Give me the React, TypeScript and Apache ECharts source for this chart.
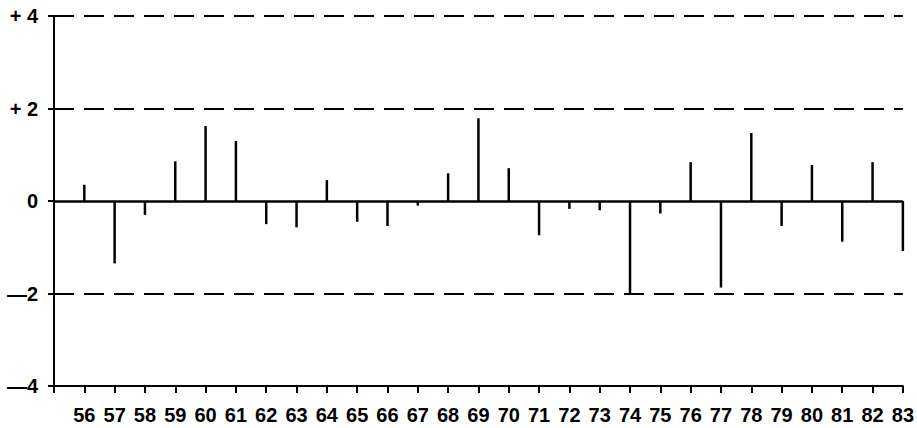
import React, { useEffect, useRef } from "react";
import * as echarts from "echarts";

const years = [56, 57, 58, 59, 60, 61, 62, 63, 64, 65, 66, 67, 68, 69, 70, 71, 72, 73, 74, 75, 76, 77, 78, 79, 80, 81, 82, 83];
const values = [0.35, -1.35, -0.3, 0.86, 1.62, 1.3, -0.5, -0.57, 0.45, -0.45, -0.54, -0.1, 0.6, 1.79, 0.71, -0.74, -0.17, -0.2, -2.01, -0.27, 0.84, -1.87, 1.47, -0.54, 0.78, -0.88, 0.84, -1.08];
const yTickLabels: Record<string, string> = { "4": "+ 4", "2": "+ 2", "0": "0", "-2": "\u20142", "-4": "\u20144" };
const dashedLevels = [4, 2, -2];

export default function App() {
  const ref = useRef<HTMLDivElement>(null);
  useEffect(() => {
    if (!ref.current) return;
    const chart = echarts.init(ref.current, undefined, { renderer: "svg" });
    const font = "Liberation Sans";
    chart.setOption({
      animation: false,
      backgroundColor: "#fff",
      grid: { left: 54, right: 12, top: 16, bottom: 42, containLabel: false },
      xAxis: {
        type: "value",
        min: 55,
        max: 83,
        interval: 1,
        axisLine: { show: true, onZero: false, lineStyle: { color: "#000", width: 2 } },
        axisTick: { show: true, length: 7, lineStyle: { color: "#000", width: 2 } },
        axisLabel: {
          margin: 19,
          color: "#000",
          fontFamily: font,
          fontSize: 20,
          fontWeight: "bold",
          hideOverlap: false,
          formatter: (v: number) => (v >= 56 ? String(v) : ""),
        },
        splitLine: { show: false },
      },
      yAxis: {
        type: "value",
        min: -4,
        max: 4,
        interval: 2,
        axisLine: { show: true, lineStyle: { color: "#000", width: 2 } },
        axisTick: { show: true, length: 6, lineStyle: { color: "#000", width: 2 } },
        axisLabel: {
          margin: 16,
          color: "#000",
          fontFamily: font,
          fontSize: 20,
          fontWeight: "bold",
          formatter: (v: number) => yTickLabels[String(v)] ?? String(v),
        },
        splitLine: { show: false },
      },
      series: [
        {
          type: "bar",
          data: years.map((y, i) => [y, values[i]]),
          barWidth: 2.5,
          itemStyle: { color: "#000" },
          markLine: {
            symbol: "none",
            silent: true,
            label: { show: false },
            data: [
              ...dashedLevels.map((v) => ({ yAxis: v, lineStyle: { type: [20, 10], color: "#000", width: 2 } })),
              { yAxis: 0, lineStyle: { type: "solid", color: "#000", width: 2.5 } },
            ],
          },
        },
      ],
    });
    return () => chart.dispose();
  }, []);
  return <div ref={ref} style={{ position: "fixed", left: 0, top: 0, width: 917, height: 428 }} />;
}
